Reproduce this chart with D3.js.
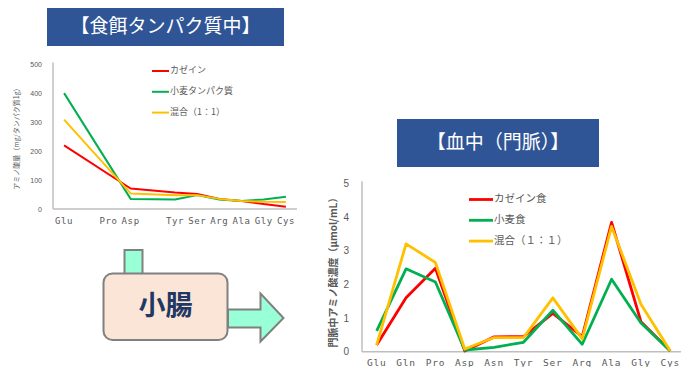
<!DOCTYPE html>
<html>
<head>
<meta charset="utf-8">
<script src="https://cdn.jsdelivr.net/npm/d3@7"></script>
<style>
  body { margin: 0; background: #fff; }
  svg { display: block; font-family: "Noto Sans CJK JP", "Noto Sans", sans-serif; }
</style>
</head>
<body>
<svg width="681" height="367"></svg>
<script>
// categories (same order for both charts)
const aminoAcids = ["Glu", "Gln", "Pro", "Asp", "Asn", "Tyr", "Ser", "Arg", "Ala", "Gly", "Cys"];
// top chart hides the Gln / Asn labels
const dietTickLabels = ["Glu", "", "Pro", "Asp", "", "Tyr", "Ser", "Arg", "Ala", "Gly", "Cys"];
const dietTicks = [0, 100, 200, 300, 400, 500];
const bloodTicks = [0, 1, 2, 3, 4, 5];

// amino acids in diet protein (mg / g protein)
const caseinDiet = [220, null, null, 71, null, 57, 52, 35, 28, 17, 8];
const wheatDiet  = [401, null, null, 35, null, 33, 48, 33, 28, 33, 42];
const mixDiet    = [309, null, null, 54, null, 48, 48, 35, 28, 25, 24];

// portal blood concentration (umol / mL)
const caseinBlood = [0.2, 1.6, 2.48, 0.02, 0.44, 0.45, 1.14, 0.45, 3.84, 0.89, 0.02];
const wheatBlood  = [0.62, 2.46, 2.07, 0.05, 0.13, 0.28, 1.23, 0.22, 2.15, 0.85, 0.02];
const mixBlood    = [0.2, 3.2, 2.65, 0.08, 0.42, 0.42, 1.6, 0.38, 3.72, 1.41, 0.02];

const dietNames = ["カゼイン", "小麦タンパク質", "混合（1：1）"];
const bloodNames = ["カゼイン食", "小麦食", "混合（１：１）"];
const colors = ["#FF0000", "#00B050", "#FFC000"];

const svg = d3.select("svg");
const axisColor = "#BFBFBF";
const textColor = "#595959";

// title boxes
function titleBox(x, y, w, h, label) {
  svg.append("rect").attr("x", x).attr("y", y).attr("width", w).attr("height", h)
     .attr("fill", "#2F5597");
  svg.append("text").attr("x", x + w / 2).attr("y", y + h / 2 + 1)
     .attr("text-anchor", "middle").attr("dominant-baseline", "middle")
     .attr("fill", "#fff").attr("font-size", 19)
     .text(label);
}
titleBox(47, 8, 237, 38, "【食餌タンパク質中】");
titleBox(397, 119, 202, 48, "【血中（門脈）】");

// generic line chart
function drawChart(opts) {
  const g = svg.append("g");
  const x = d3.scaleBand().domain(aminoAcids).range(opts.xRange);
  const y = d3.scaleLinear().domain(opts.yDomain).range(opts.yRange);
  const cx = d => x(d) + x.bandwidth() / 2;

  // axes
  g.append("line").attr("x1", opts.xRange[0]).attr("x2", opts.xRange[0])
   .attr("y1", opts.yRange[0]).attr("y2", opts.yRange[1] - 2)
   .attr("stroke", axisColor).attr("stroke-width", 1.5);
  g.append("line").attr("x1", opts.xRange[0]).attr("x2", opts.axisEnd)
   .attr("y1", opts.yRange[0]).attr("y2", opts.yRange[0])
   .attr("stroke", axisColor).attr("stroke-width", 1.5);

  const yAxis = g.append("g")
    .attr("transform", `translate(${opts.xRange[0] - opts.yTickGap},0)`)
    .call(d3.axisLeft(y).tickValues(opts.yTicks).tickSize(0).tickFormat(d3.format("d")));
  yAxis.select(".domain").remove();
  yAxis.selectAll("text").attr("fill", textColor).attr("font-size", opts.yTickSize)
       .attr("font-family", "Liberation Sans, sans-serif");

  const xAxis = g.append("g")
    .attr("transform", `translate(0,${opts.yRange[0] + opts.xTickGap})`)
    .call(d3.axisBottom(x).tickSize(0).tickFormat((d, i) => opts.xLabels[i]));
  xAxis.select(".domain").remove();
  xAxis.selectAll("text").attr("fill", textColor).attr("font-size", opts.xTickSize)
       .attr("font-family", "DejaVu Sans Mono, monospace")
       .attr("letter-spacing", opts.xTickSpacing);

  // y title
  g.append("text")
   .attr("transform", `translate(${opts.titleX},${opts.titleY}) rotate(-90)`)
   .attr("text-anchor", "middle").attr("dominant-baseline", "middle")
   .attr("fill", textColor).attr("font-size", opts.titleSize)
   .attr("font-weight", opts.titleWeight)
   .text(opts.title);

  // lines
  const line = d3.line().x(d => cx(d.k)).y(d => y(d.v));
  opts.series.forEach((s, i) => {
    const pts = aminoAcids.map((k, j) => ({ k, v: s[j] })).filter(d => d.v !== null);
    g.append("path").datum(pts)
     .attr("d", line)
     .attr("fill", "none")
     .attr("stroke", colors[i])
     .attr("stroke-width", opts.lineWidth)
     .attr("stroke-linejoin", "round");
  });

  // legend
  opts.names.forEach((n, i) => {
    const ly = opts.legendY + i * opts.legendStep;
    g.append("line").attr("x1", opts.legendX).attr("x2", opts.legendX + opts.legendLen)
     .attr("y1", ly).attr("y2", ly)
     .attr("stroke", colors[i]).attr("stroke-width", opts.lineWidth);
    g.append("text").attr("x", opts.legendX + opts.legendLen + 1).attr("y", ly)
     .attr("dominant-baseline", "middle")
     .attr("fill", textColor).attr("font-size", opts.legendSize)
     .text(n);
  });
}

drawChart({
  xRange: [53, 297], axisEnd: 297,
  yDomain: [0, 500], yRange: [209, 64.5],
  yTicks: dietTicks, yTickGap: 8, yTickSize: 7, xTickGap: 6,
  xLabels: dietTickLabels, xTickSize: 9, xTickSpacing: 0.6,
  title: "アミノ酸量（mg/タンパク質1g）", titleX: 17, titleY: 137, titleSize: 7, titleWeight: "normal",
  series: [caseinDiet, wheatDiet, mixDiet], lineWidth: 2,
  names: dietNames, legendX: 152, legendY: 71, legendStep: 20.8, legendLen: 17, legendSize: 9
});

drawChart({
  xRange: [362, 685], axisEnd: 681,
  yDomain: [0, 5], yRange: [351.7, 183.3],
  yTicks: bloodTicks, yTickGap: 10, yTickSize: 10, xTickGap: 5,
  xLabels: aminoAcids, xTickSize: 9.5, xTickSpacing: 0.8,
  title: "門脈中アミノ酸濃度（μmol/mL）", titleX: 334, titleY: 270, titleSize: 10, titleWeight: "bold",
  series: [caseinBlood, wheatBlood, mixBlood], lineWidth: 2.8,
  names: bloodNames, legendX: 469, legendY: 199.5, legendStep: 20.8, legendLen: 24, legendSize: 10.5
});

// small intestine diagram
svg.append("rect").attr("x", 124.5).attr("y", 250).attr("width", 18).attr("height", 24)
   .attr("fill", "#99FFD6").attr("stroke", "#808080").attr("stroke-width", 2);
svg.append("rect").attr("x", 103.5).attr("y", 273.5).attr("width", 124).attr("height", 66.5)
   .attr("rx", 9).attr("fill", "#FBE5D6").attr("stroke", "#808080").attr("stroke-width", 2);
svg.append("text").attr("x", 165.5).attr("y", 308).attr("text-anchor", "middle")
   .attr("dominant-baseline", "middle").attr("font-size", 27).attr("font-weight", "bold")
   .attr("fill", "#1F3864").text("小腸");
svg.append("path")
   .attr("d", "M228,309.5 L260.5,309.5 L260.5,293.5 L283.5,318 L260.5,341.5 L260.5,327.5 L228,327.5 Z")
   .attr("fill", "#99FFD6").attr("stroke", "#808080").attr("stroke-width", 2)
   .attr("stroke-linejoin", "miter");
</script>
</body>
</html>
